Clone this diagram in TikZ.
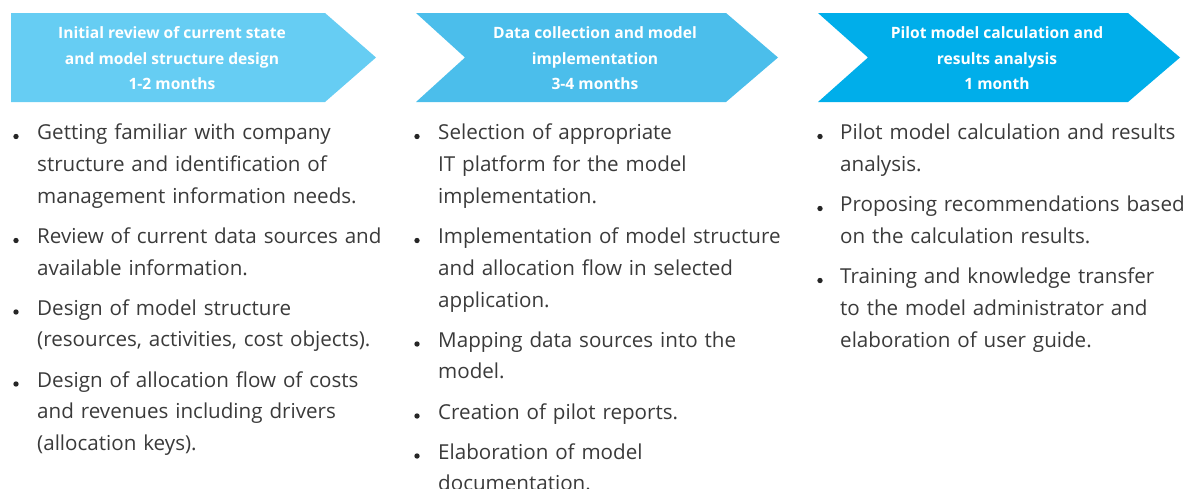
\documentclass[tikz,border=0pt]{standalone}
\usepackage{fontspec}
\setmainfont{Open Sans}
\definecolor{phaseA}{HTML}{66CDF3}
\definecolor{phaseB}{HTML}{4BBEEB}
\definecolor{phaseC}{HTML}{00AEEA}
\definecolor{bodygray}{HTML}{3A3A3A}
\begin{document}
\begin{tikzpicture}[x=1pt,y=-1pt]
      \tikzstyle{phase}=[text=white,align=center,inner sep=0pt,font=\fontsize{15.6}{25.5}\selectfont\bfseries]
      \tikzstyle{task}=[anchor=base west,inner sep=0pt,text width=380pt,align=left,text=bodygray,font=\fontsize{20.6}{31.8}\selectfont]
      \tikzstyle{dot}=[fill=black!85]
      \useasboundingbox (0,0) rectangle (1184,488);
      % phase arrows
      \path[fill=phaseA] (11,13) -- (325,13) -- (376,57.5) -- (325,102) -- (11,102) -- cycle;
      \path[fill=phaseB] (416,13) -- (726,13) -- (778,57.5) -- (726,102) -- (416,102) -- (465,57.5) -- cycle;
      \path[fill=phaseC] (818,13) -- (1128,13) -- (1180,57.5) -- (1128,102) -- (818,102) -- (868,57.5) -- cycle;
      \node[phase] (P1) at (172,58.5) {Initial review of current state\\and model structure design\\1-2 months};
      \node[phase] (P2) at (595,58.5) {Data collection and model\\implementation\\3-4 months};
      \node[phase] (P3) at (997,58.5) {Pilot model calculation and\\results analysis\\1 month};
      % first column
      \node[task] (A1) at (37,139.5) {Getting familiar with company\\structure and identification of\\management information needs.};
      \node[task] (A2) at (37,243.5) {Review of current data sources and\\available information.};
      \node[task] (A3) at (37,315) {Design of model structure\\(resources, activities, cost objects).};
      \node[task] (A4) at (37,387) {Design of allocation flow of costs\\and revenues including drivers\\(allocation keys).};
      % second column
      \node[task] (B1) at (438,139.5) {Selection of appropriate\\IT platform for the model\\implementation.};
      \node[task] (B2) at (438,243.5) {Implementation of model structure\\and allocation flow in selected\\application.};
      \node[task] (B3) at (438,347) {Mapping data sources into the\\model.};
      \node[task] (B4) at (438,419) {Creation of pilot reports.};
      \node[task] (B5) at (438,459) {Elaboration of model\\documentation.};
      % third column
      \node[task] (C1) at (840,139.5) {Pilot model calculation and results\\analysis.};
      \node[task] (C2) at (840,211.5) {Proposing recommendations based\\on the calculation results.};
      \node[task] (C3) at (840,283.5) {Training and knowledge transfer\\to the model administrator and\\elaboration of user guide.};
      % bullets
      \path[dot] ([shift={(-21,-3)}]A1.base west) circle (2.7);
      \path[dot] ([shift={(-21,-3)}]A2.base west) circle (2.7);
      \path[dot] ([shift={(-21,-3)}]A3.base west) circle (2.7);
      \path[dot] ([shift={(-21,-3)}]A4.base west) circle (2.7);
      \path[dot] ([shift={(-21,-3)}]B1.base west) circle (2.7);
      \path[dot] ([shift={(-21,-3)}]B2.base west) circle (2.7);
      \path[dot] ([shift={(-21,-3)}]B3.base west) circle (2.7);
      \path[dot] ([shift={(-21,-3)}]B4.base west) circle (2.7);
      \path[dot] ([shift={(-21,-3)}]B5.base west) circle (2.7);
      \path[dot] ([shift={(-20,-3)}]C1.base west) circle (2.7);
      \path[dot] ([shift={(-20,-3)}]C2.base west) circle (2.7);
      \path[dot] ([shift={(-20,-3)}]C3.base west) circle (2.7);
\end{tikzpicture}
\end{document}
